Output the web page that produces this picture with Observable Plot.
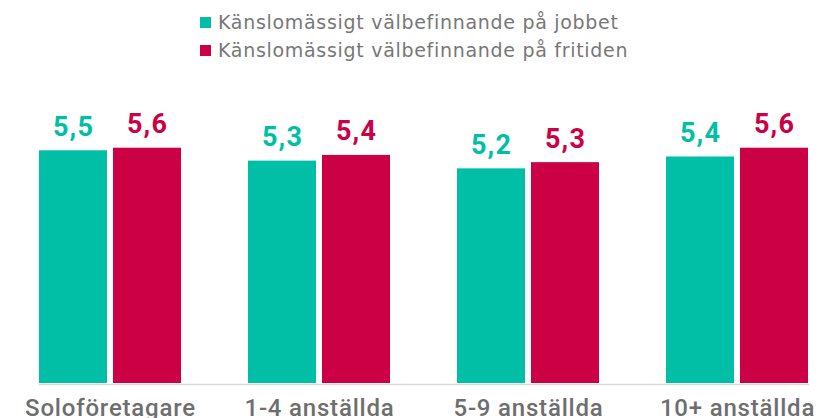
<!DOCTYPE html>
<html><head><meta charset="utf-8">
<script src="https://cdn.jsdelivr.net/npm/d3@7"></script>
<script src="https://cdn.jsdelivr.net/npm/@observablehq/plot@0.6"></script>
<style>
body{margin:0;background:#fff;font-family:"DejaVu Sans", sans-serif;}
#legend{height:70px;position:relative;}
.item{position:absolute;left:200px;display:flex;align-items:center;font-size:19px;letter-spacing:0.7px;line-height:22px;color:#777;white-space:nowrap;}
.sw{width:11px;height:11px;margin-right:7px;flex:none;}
#chart g[aria-label="fx-axis tick label"] text{letter-spacing:0.8px;}
#chart g[aria-label="text"] text{letter-spacing:1.2px;}
</style></head><body>
<div id="legend"></div><div id="chart"></div>
<script>
const categories = ["Soloföretagare", "1-4 anställda", "5-9 anställda", "10+ anställda"];
const seriesNames = ["Känslomässigt välbefinnande på jobbet", "Känslomässigt välbefinnande på fritiden"];
const seriesColors = ["#00bfa6", "#cc0044"];
const jobbet = [5.51, 5.31, 5.16, 5.39];
const fritiden = [5.56, 5.42, 5.28, 5.56];

const fmt = v => v.toFixed(1).replace(".", ",");
const rows = [];
categories.forEach((c, i) => {
  rows.push({cat: c, series: seriesNames[0], value: jobbet[i]});
  rows.push({cat: c, series: seriesNames[1], value: fritiden[i]});
});

const legend = document.getElementById("legend");
seriesNames.forEach((s, i) => {
  const it = document.createElement("div");
  it.className = "item";
  it.style.top = (11 + i * 28) + "px";
  const sw = document.createElement("span");
  sw.className = "sw";
  sw.style.background = seriesColors[i];
  const tx = document.createElement("span");
  tx.textContent = s;
  it.append(sw, tx);
  legend.append(it);
});

const plot = Plot.plot({
  width: 819, height: 348,
  marginTop: 3.4, marginBottom: 35, marginLeft: 7, marginRight: 0,
  style: {fontFamily: "Roboto, sans-serif", background: "transparent", overflow: "visible"},
  fx: {domain: categories, paddingInner: 0.321, paddingOuter: 0.102, align: 0.733, label: null},
  x: {domain: seriesNames, paddingInner: 0.086, paddingOuter: 0, axis: null},
  y: {domain: [1, 7], axis: null},
  color: {domain: seriesNames, range: seriesColors},
  marks: [
    Plot.barY(rows, {fx: "cat", x: "series", y1: 1, y2: "value", fill: "series"}),
    Plot.text(rows, {fx: "cat", x: "series", y: "value", text: d => fmt(d.value), fill: "series",
      lineAnchor: "bottom", dy: -15, fontSize: 27, fontWeight: 700}),
    Plot.frame({anchor: "bottom", facet: "super", stroke: "#d9d9d9", strokeWidth: 1.5, dy: 1}),
    Plot.axisFx({anchor: "bottom", tickSize: 0, tickPadding: 15, fontSize: 24, fontWeight: 500, fill: "#6e6e6e", label: null})
  ]
});
document.getElementById("chart").append(plot);
</script>
</body></html>
